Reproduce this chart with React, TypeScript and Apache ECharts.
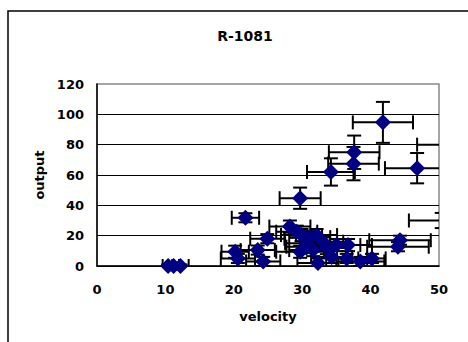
import React, { useEffect, useRef } from "react";
import * as echarts from "echarts";

const xValues = [41.8, 37.6, 37.5, 34.2, 46.8, 52.5, 29.7, 21.7, 50.4, 10.4, 11.2, 12.2, 20.2, 20.6, 23.5, 24.3, 24.9, 28.2, 29.2, 29.9, 31.1, 32.1, 30.7, 29.7, 31.6, 32.3, 33.6, 34.3, 35.0, 36.7, 36.5, 38.5, 40.2, 44.3, 44.0, 30.5, 33.0];
const yValues = [94.7, 75, 67.5, 62, 64.5, 80, 44.7, 31.8, 30, 0, 0, 0, 9.4, 5, 10.5, 3, 18, 26, 22.6, 20.4, 19, 20.4, 12.7, 9.4, 10.5, 2, 11.8, 6, 13.8, 13.8, 5, 3, 5, 17, 12.7, 15, 16];
const xErrors = [4.4, 3.7, 3.7, 3.5, 4.7, 5.7, 3, 2, 4.8, 0.8, 0.8, 1.2, 2, 2.5, 2.5, 2.5, 2.5, 3, 3, 3, 3, 3, 3, 3.5, 3.5, 3, 3, 3, 3.5, 3.5, 3, 3.5, 2, 4.5, 4.5, 3, 3];
const yErrors = [13.5, 11, 11, 9, 10, 10, 7, 3, 5, 1, 1, 1, 4, 3, 3, 3, 3, 4, 4, 4, 4, 4, 4, 4, 4, 3, 4, 4, 4, 4, 3, 3, 3, 3, 3, 4, 3];

const xTicks = [0, 10, 20, 30, 40, 50];
const yTicks = [0, 20, 40, 60, 80, 100, 120];

const FONT = "DejaVu Sans";

export default function App() {
  const ref = useRef<HTMLDivElement>(null);
  useEffect(() => {
    if (!ref.current) return;
    const chart = echarts.init(ref.current, null, { renderer: "svg" });
    const points = xValues.map((x, i) => [x, yValues[i], xErrors[i], yErrors[i]]);
    const cap = 7;
    chart.setOption({
      animation: false,
      backgroundColor: "#ffffff",
      title: {
        text: "R-1081",
        left: 240,
        top: 24,
        textAlign: "center",
        textStyle: { fontFamily: FONT, fontWeight: "bold", fontSize: 14, color: "#000" },
      },
      graphic: [
        {
          type: "rect",
          shape: { x: 8, y: 11, width: 520, height: 400 },
          style: { fill: "none", stroke: "#000", lineWidth: 1.5 },
          silent: true,
        },
      ],
      grid: {
        left: 97,
        right: 29,
        top: 84,
        bottom: 76,
        show: true,
        borderColor: "#888",
        borderWidth: 1.5,
        backgroundColor: "transparent",
      },
      xAxis: {
        type: "value",
        min: xTicks[0],
        max: xTicks[xTicks.length - 1],
        interval: 10,
        name: "velocity",
        nameLocation: "middle",
        nameGap: 44,
        nameTextStyle: { fontFamily: FONT, fontWeight: "bold", fontSize: 13, color: "#000" },
        axisLine: { show: true, onZero: false, lineStyle: { color: "#000", width: 1.5 } },
        axisTick: { show: false },
        splitLine: { show: false },
        axisLabel: { margin: 17, fontFamily: FONT, fontWeight: "bold", fontSize: 13, color: "#000" },
      },
      yAxis: {
        type: "value",
        min: yTicks[0],
        max: yTicks[yTicks.length - 1],
        interval: 20,
        name: "output",
        nameLocation: "middle",
        nameGap: 47,
        nameTextStyle: { fontFamily: FONT, fontWeight: "bold", fontSize: 13, color: "#000" },
        axisLine: { show: true, onZero: false, lineStyle: { color: "#000", width: 1.5 } },
        axisTick: { show: false },
        splitLine: { show: true, showMaxLine: false, lineStyle: { color: "#000", width: 1 } },
        axisLabel: { margin: 13, fontFamily: FONT, fontWeight: "bold", fontSize: 13, color: "#000" },
      },
      series: [
        {
          type: "custom",
          clip: true,
          z: 2,
          data: points,
          renderItem: (params: any, api: any) => {
            const x = api.value(0);
            const y = api.value(1);
            const ex = api.value(2);
            const ey = api.value(3);
            const l = api.coord([x - ex, y]);
            const r = api.coord([x + ex, y]);
            const t = api.coord([x, y + ey]);
            const b = api.coord([x, y - ey]);
            const style = { stroke: "#000", lineWidth: 2 };
            return {
              type: "group",
              children: [
                { type: "line", shape: { x1: l[0], y1: l[1], x2: r[0], y2: r[1] }, style },
                { type: "line", shape: { x1: l[0], y1: l[1] - cap, x2: l[0], y2: l[1] + cap }, style },
                { type: "line", shape: { x1: r[0], y1: r[1] - cap, x2: r[0], y2: r[1] + cap }, style },
                { type: "line", shape: { x1: t[0], y1: t[1], x2: b[0], y2: b[1] }, style },
                { type: "line", shape: { x1: t[0] - cap, y1: t[1], x2: t[0] + cap, y2: t[1] }, style },
                { type: "line", shape: { x1: b[0] - cap, y1: b[1], x2: b[0] + cap, y2: b[1] }, style },
              ],
            };
          },
        },
        {
          type: "scatter",
          z: 3,
          clip: true,
          symbol: "diamond",
          symbolSize: 16,
          itemStyle: { color: "#000080", opacity: 1 },
          data: xValues.map((x, i) => [x, yValues[i]]),
        },
      ],
    });
    return () => chart.dispose();
  }, []);
  return (
    <div
      ref={ref}
      style={{ position: "absolute", left: 0, top: 0, width: 468, height: 342 }}
    />
  );
}
